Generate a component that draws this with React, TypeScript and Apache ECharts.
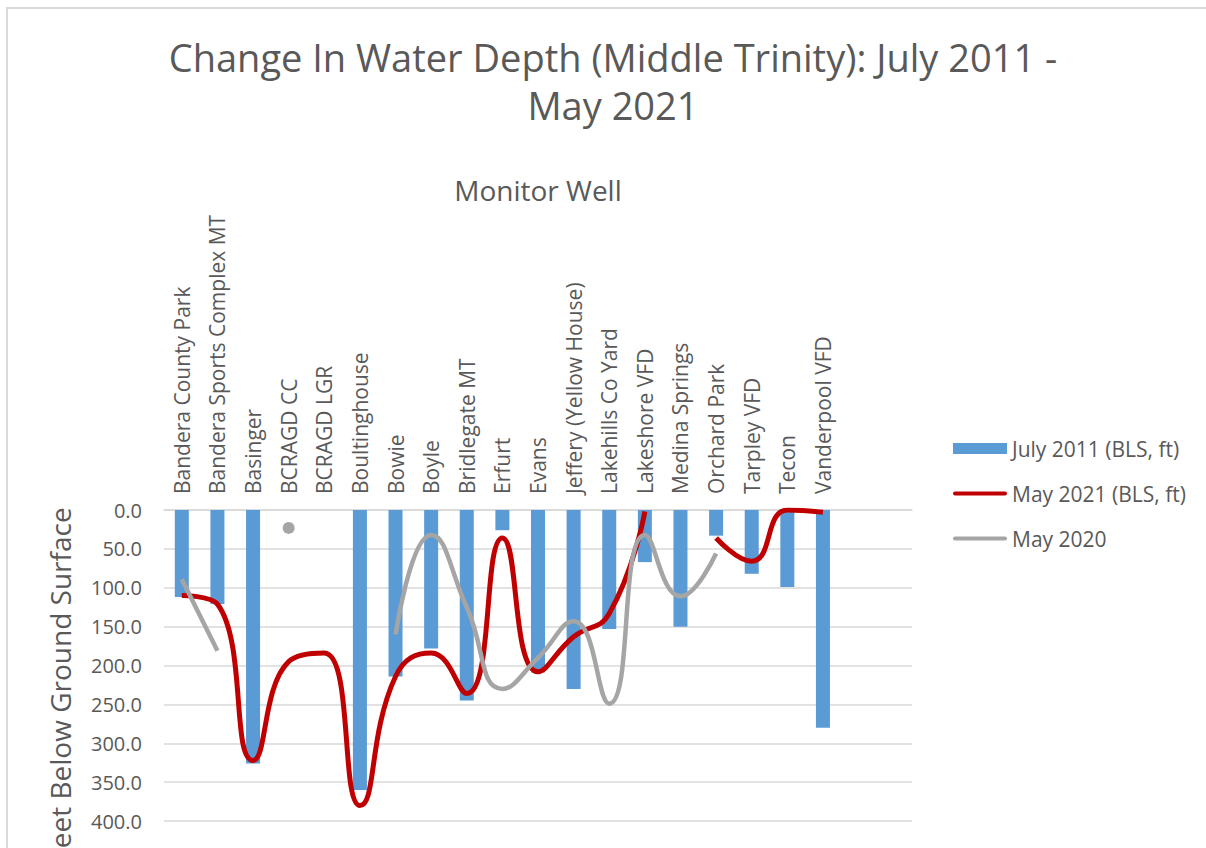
import React, { useEffect, useRef } from "react";
import * as echarts from "echarts";

const categories = [
  "Bandera County Park",
  "Bandera Sports Complex MT",
  "Basinger",
  "BCRAGD CC",
  "BCRAGD LGR",
  "Boultinghouse",
  "Bowie",
  "Boyle",
  "Bridlegate MT",
  "Erfurt",
  "Evans",
  "Jeffery (Yellow House)",
  "Lakehills Co Yard",
  "Lakeshore VFD",
  "Medina Springs",
  "Orchard Park",
  "Tarpley VFD",
  "Tecon",
  "Vanderpool VFD",
  "",
  "",
];

const july2011: (number | null)[] = [
  112, 121, 326, null, null, 360, 214, 178, 245, 26, 209, 230, 153, 67, 150, 33, 82, 99, 280, null, null,
];

const may2021: (number | null)[] = [
  110, 121, 322, 195, 184, 380, 214, 184, 236, 36, 208, 163, 133, 2, null, 36, 66, 0, 3, null, null,
];

const may2020: (number | null)[] = [
  89, 181, null, 23, null, null, 160, 32, 125, 230, 190, 143, 249, 32, 111, 56, null, null, null, null, null,
];

const yTicks = [0, 50, 100, 150, 200, 250, 300, 350, 400];

const FONT = "Open Sans";
const TXT = "#595959";
const LINE_ICON = "path://M0,0 M54,11 M2,3.5 L52,3.5 A2,2 0 0 1 52,7.5 L2,7.5 A2,2 0 0 1 2,3.5 Z";

export default function App() {
  const ref = useRef<HTMLDivElement>(null);

  useEffect(() => {
    if (!ref.current) return;
    const chart = echarts.init(ref.current, undefined, { renderer: "svg" });

    const gray2020 = may2020.map((v, i) => {
      const prev = i > 0 ? may2020[i - 1] : null;
      const next = i < may2020.length - 1 ? may2020[i + 1] : null;
      if (v != null && prev == null && next == null) {
        return { value: v, symbol: "circle", symbolSize: 12, itemStyle: { color: "#A5A5A5" } };
      }
      return v;
    });

    chart.setOption({
      animation: false,
      backgroundColor: "#ffffff",
      textStyle: { fontFamily: FONT },
      title: {
        text: "Change In Water Depth (Middle Trinity): July 2011 -\nMay 2021",
        left: 608,
        textAlign: "center",
        top: 28,
        textStyle: {
          fontFamily: FONT,
          fontSize: 38,
          fontWeight: "normal",
          color: TXT,
          lineHeight: 48,
        },
      },
      legend: {
        orient: "vertical",
        left: 948,
        top: 433,
        itemWidth: 54,
        itemHeight: 11,
        itemGap: 24,
        textStyle: { fontFamily: FONT, fontSize: 21, color: TXT },
        data: [
          { name: "July 2011 (BLS, ft)", icon: "rect" },
          { name: "May 2021 (BLS, ft)", icon: LINE_ICON },
          { name: "May 2020", icon: LINE_ICON },
        ],
      },
      graphic: [
        {
          type: "rect",
          shape: { x: 7, y: 8, width: 1300, height: 1100 },
          style: { fill: "none", stroke: "#d9d9d9", lineWidth: 2 },
          silent: true,
        },
      ],
      grid: { left: 164, right: 294, top: 510, bottom: 140 },
      xAxis: {
        type: "category",
        position: "top",
        data: categories,
        name: "Monitor Well",
        nameLocation: "middle",
        nameGap: 306,
        nameTextStyle: { fontFamily: FONT, fontSize: 28, color: TXT },
        axisLine: { show: true, lineStyle: { color: "#d9d9d9", width: 1.5 } },
        axisTick: { show: false },
        axisLabel: {
          rotate: 90,
          interval: 0,
          margin: 16,
          fontFamily: FONT,
          fontSize: 21,
          color: TXT,
        },
      },
      yAxis: {
        type: "value",
        inverse: true,
        min: 0,
        max: 450,
        interval: 50,
        name: "Feet Below Ground Surface",
        nameLocation: "middle",
        nameGap: 90,
        nameTextStyle: { fontFamily: FONT, fontSize: 28, color: TXT },
        axisLine: { show: false },
        axisTick: { show: false },
        splitLine: { lineStyle: { color: "#d9d9d9", width: 1.5 } },
        axisLabel: {
          margin: 22,
          fontFamily: FONT,
          fontSize: 20,
          color: TXT,
          formatter: (v: number) => (yTicks.includes(v) ? v.toFixed(1) : ""),
        },
      },
      series: [
        {
          name: "July 2011 (BLS, ft)",
          type: "bar",
          data: july2011,
          barWidth: 14,
          itemStyle: { color: "#5B9BD5" },
          z: 1,
        },
        {
          name: "May 2021 (BLS, ft)",
          type: "line",
          data: may2021,
          smooth: 0.5,
          symbol: "none",
          connectNulls: false,
          lineStyle: { color: "#C00000", width: 5 },
          itemStyle: { color: "#C00000" },
          z: 3,
        },
        {
          name: "May 2020",
          type: "line",
          data: gray2020,
          smooth: 0.5,
          symbol: "none",
          showSymbol: true,
          connectNulls: false,
          lineStyle: { color: "#A5A5A5", width: 4.5 },
          itemStyle: { color: "#A5A5A5" },
          z: 4,
        },
      ],
    });

    return () => chart.dispose();
  }, []);

  return (
    <div
      style={{
        position: "fixed",
        left: 0,
        top: 0,
        width: 1206,
        height: 848,
        overflow: "hidden",
        background: "#fff",
      }}
    >
      <div ref={ref} style={{ width: 1206, height: 1000 }} />
    </div>
  );
}
